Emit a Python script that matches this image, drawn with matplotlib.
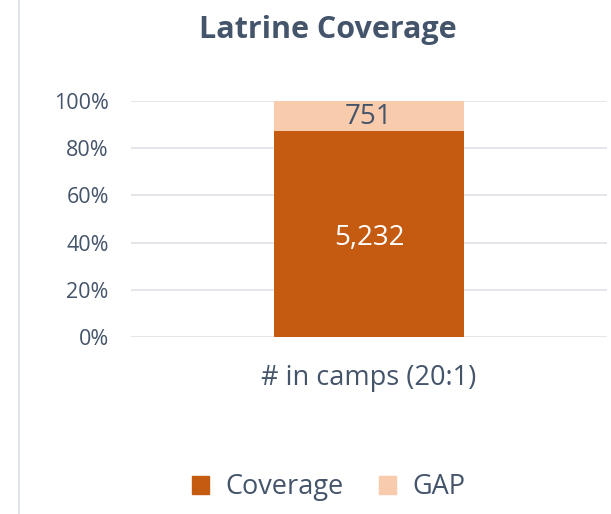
import matplotlib.pyplot as plt
from matplotlib.lines import Line2D
from matplotlib.patches import Patch

# Latrine coverage in camps (20:1 ratio)
categories = ['# in camps (20:1)']
coverage = [5232]
gap = [751]
series_names = ['Coverage', 'GAP']
yticks = [0, 0.2, 0.4, 0.6, 0.8, 1.0]
ytick_labels = ['0%', '20%', '40%', '60%', '80%', '100%']

plt.rcParams['font.family'] = ['Open Sans', 'DejaVu Sans']
txt_col = '#44546A'
cov_col = '#C55A11'
gap_col = '#F8CBAD'

total = [c + g for c, g in zip(coverage, gap)]
cov_frac = [c / t for c, t in zip(coverage, total)]
gap_frac = [g / t for g, t in zip(gap, total)]

fig = plt.figure(figsize=(6.11, 5.14), dpi=100)
ax = fig.add_axes([0.2144, 0.345, 0.7791, 0.458])

x = list(range(len(categories)))
ax.bar(x, cov_frac, width=0.4, color=cov_col, zorder=3)
ax.bar(x, gap_frac, width=0.4, bottom=cov_frac, color=gap_col, zorder=3)

for i in x:
    ax.text(i, cov_frac[i] / 2 - 0.02, f'{coverage[i]:,}', ha='center', va='center',
            color='white', fontsize=20)
    ax.text(i, cov_frac[i] + gap_frac[i] / 2 - 0.005, f'{gap[i]:,}', ha='center', va='center',
            color='#44546A', fontsize=20)

ax.set_xlim(-0.5, 0.5)
ax.set_ylim(0, 1)
ax.set_yticks(yticks)
ax.set_yticklabels(ytick_labels)
ax.set_xticks(x)
ax.set_xticklabels(categories)
ax.tick_params(axis='y', length=0, pad=16, labelsize=15.5, labelcolor=txt_col)
ax.tick_params(axis='x', length=0, pad=20, labelsize=19.5, labelcolor=txt_col)
ax.grid(axis='y', color='#E1E5EB', linewidth=1.3, zorder=0)
for s in ax.spines.values():
    s.set_visible(False)

fig.text(0.536, 0.942, 'Latrine Coverage', ha='center', va='center',
         fontsize=22, fontweight='bold', color=txt_col)

# thin frame line at left edge of the chart area
fig.add_artist(Line2D([0.031, 0.031], [0, 1], transform=fig.transFigure,
                      color='#D9DEE6', linewidth=1.2))

handles = [Patch(color=cov_col), Patch(color=gap_col)]
fig.legend(handles, series_names, loc='center', bbox_to_anchor=(0.538, 0.052),
           ncol=2, frameon=False, fontsize=19.5, labelcolor=txt_col,
           handlelength=0.62, handleheight=0.62, handletextpad=0.6, columnspacing=1.3)

fig.savefig('out.png', dpi=100)
